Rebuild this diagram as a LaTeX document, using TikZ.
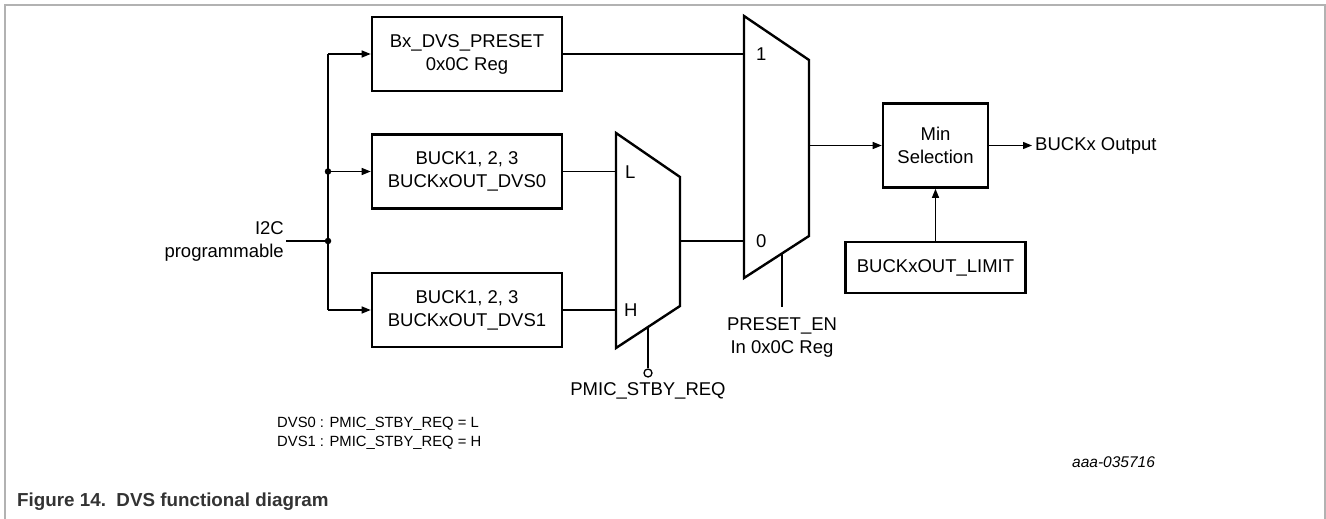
\documentclass[tikz,border=0pt]{standalone}
\usepackage{fontspec}
\setmainfont{Liberation Sans}
\usetikzlibrary{positioning}
\usetikzlibrary{arrows.meta}
\tikzset{tips=proper}
\tikzset{%
    reg/.style={rectangle, draw, line width=2.6pt, align=center, inner sep=0pt},
    wire/.style={draw, line width=1.3pt},
    arrow/.style={draw, line width=1.3pt, -{Triangle[length=9pt,width=7pt]}},
    mux/.style={draw, line width=2.4pt, line join=miter},
    dot/.style={circle, fill, inner sep=0pt, minimum size=6.5pt},
    pin/.style={anchor=west, inner sep=0pt},
    note/.style={font=\fontsize{14.8}{19}\selectfont, align=left}
}

\begin{document}
\begin{tikzpicture}[x=1pt, y=-1pt, font=\fontsize{18.5}{23}\selectfont]
    \useasboundingbox (0,0) rectangle (1326,519);
    \draw[gray!60, line width=1.5pt] (5,519) -- (5,5) -- (1325,5) -- (1325,519);

    \node[reg, minimum width=190pt, minimum height=74pt] (preset) at (467,54) {Bx\_DVS\_PRESET\\0x0C Reg};
    \node[reg, minimum width=190pt, minimum height=74pt] (dvs0) at (467,171.5) {BUCK1, 2, 3\\BUCKxOUT\_DVS0};
    \node[reg, minimum width=190pt, minimum height=74pt] (dvs1) at (467,310) {BUCK1, 2, 3\\BUCKxOUT\_DVS1};
    \node[reg, minimum width=105pt, minimum height=84pt] (minsel) at (935.5,145.5) {Min\\Selection};
    \node[reg, minimum width=180pt, minimum height=51pt] (limit) at (935.5,267.5) {BUCKxOUT\_LIMIT};

    \coordinate (bustop) at (328,54);
    \coordinate (busbot) at (328,310);
    \node[dot] (j1) at (328,171.5) {};
    \node[dot] (j2) at (328,241) {};
    \node[anchor=east, align=right, inner sep=2pt] (i2c) at (286,241) {I2C\\programmable};
    \draw[wire] (bustop) -- (busbot);
    \draw[wire] (i2c.east) -- (j2);
    \draw[arrow] (bustop) -- (preset.west);
    \draw[arrow] (j1) -- (dvs0.west);
    \draw[arrow] (busbot) -- (dvs1.west);

    \draw[mux] (616,133) -- (680,177) -- (680,306) -- (616,348) -- cycle;
    \coordinate (m1low) at (616,171.5);
    \coordinate (m1high) at (616,310);
    \coordinate (m1out) at (680,241);
    \coordinate (m1sel) at (648,327);
    \node[pin] at (625,172) {L};
    \node[pin] at (624,310) {H};
    \node[circle, draw, line width=1.3pt, minimum size=8pt, inner sep=0pt] (stby) at (648,373) {};
    \node (stbylbl) at (648,391) {PMIC\_STBY\_REQ};
    \draw[wire] (dvs0.east) -- (m1low);
    \draw[wire] (dvs1.east) -- (m1high);
    \draw[wire] (m1sel) -- (stby.north);

    \draw[mux] (744,16) -- (809,60) -- (809,236) -- (744,278) -- cycle;
    \coordinate (m2one) at (744,54);
    \coordinate (m2zero) at (744,241);
    \coordinate (m2out) at (809,145.5);
    \coordinate (m2sel) at (782,253.4);
    \coordinate (m2selend) at (782,307);
    \node[pin] at (756,54) {1};
    \node[pin] at (756,241) {0};
    \node[align=center, inner sep=0pt] (presetlbl) at (782,337) {PRESET\_EN\\In 0x0C Reg};
    \draw[wire] (preset.east) -- (m2one);
    \draw[wire] (m1out) -- (m2zero);
    \draw[wire] (m2sel) -- (m2selend);
    \draw[arrow] (m2out) -- (minsel.west);

    \node[anchor=west, inner sep=3pt] (bout) at (1032,145.5) {BUCKx Output};
    \draw[arrow] (minsel.east) -- (bout.west);
    \draw[arrow] (limit.north) -- (minsel.south);

    \node[note, anchor=west, inner sep=0pt] (dvsnote) at (277,433) {DVS0 : PMIC\_STBY\_REQ = L\\DVS1 : PMIC\_STBY\_REQ = H};
    \node[anchor=west, inner sep=0pt, font=\fontsize{15.5}{18}\selectfont\itshape] (figid) at (1072,462) {aaa-035716};
    \node[anchor=west, inner sep=0pt, text=black!80, font=\fontsize{18.8}{22}\selectfont\bfseries] (caption) at (17,502) {Figure 14.\ \ DVS functional diagram};
\end{tikzpicture}
\end{document}
